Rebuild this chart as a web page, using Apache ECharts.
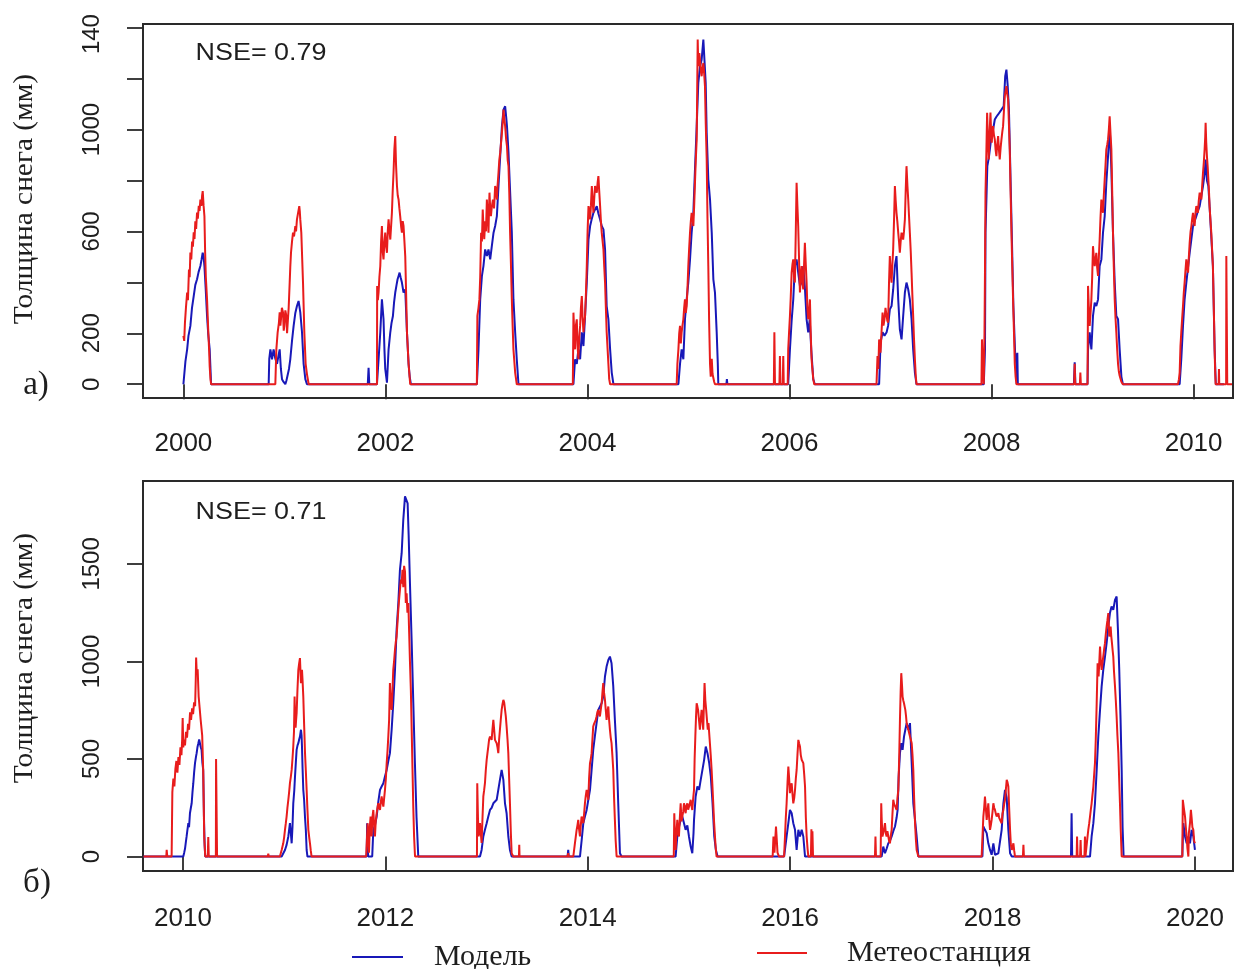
<!DOCTYPE html>
<html><head><meta charset="utf-8">
<script src="https://cdn.jsdelivr.net/npm/echarts@6/dist/echarts.min.js"></script>
<style>html,body{margin:0;padding:0;background:#fff}#c{width:1235px;height:969px}</style>
</head><body><div id="c"></div>
<script>
// ---------- axis ticks / labels ----------
const yTicksA = [0,200,400,600,800,1000,1200,1400];
const yLabelsA = [0,200,600,1000,1400];
const yTicksB = [0,500,1000,1500];
const xTicksA = [2000,2002,2004,2006,2008,2010];
const xTicksB = [2010,2012,2014,2016,2018,2020];
const nseA = 'NSE= 0.79';
const nseB = 'NSE= 0.71';
const yTitle = 'Толщина снега (мм)';
const seriesNames = ['Модель','Метеостанция'];

// ---------- panel a) 2000-2010 : [decimal year, snow depth mm] ----------
const modelA = [
[2000.00,0],[2000.02,90],[2000.037,137],[2000.05,190],[2000.069,229],[2000.085,300],[2000.102,346],[2000.118,390],[2000.135,412],[2000.15,440],[2000.168,464],[2000.18,490],[2000.191,516],[2000.2,500],[2000.208,464],[2000.22,380],[2000.234,268],[2000.245,200],[2000.26,137],[2000.268,60],[2000.274,0],
[2000.844,0],[2000.85,100],[2000.861,137],[2000.877,98],[2000.893,137],[2000.91,100],[2000.927,80],[2000.94,110],[2000.953,137],[2000.965,60],[2000.976,20],[2000.99,10],[2001.009,0],[2001.02,15],[2001.032,20],[2001.045,60],[2001.058,98],[2001.075,170],[2001.091,229],[2001.108,280],[2001.124,307],[2001.14,327],[2001.157,282],[2001.174,204],[2001.19,80],[2001.207,20],[2001.223,0],
[2001.825,0],[2001.833,65],[2001.84,0],[2001.916,0],[2001.932,98],[2001.949,204],[2001.965,333],[2001.981,255],[2001.99,137],[2001.998,60],[2002.015,6],[2002.031,137],[2002.048,204],[2002.06,240],[2002.074,268],[2002.085,320],[2002.097,360],[2002.11,390],[2002.12,412],[2002.13,425],[2002.14,438],[2002.15,420],[2002.163,399],[2002.179,360],[2002.196,372],[2002.213,204],[2002.229,80],[2002.24,30],[2002.252,0],
[2002.905,0],[2002.921,137],[2002.938,333],[2002.955,425],[2002.97,464],[2002.987,529],[2003.004,503],[2003.02,529],[2003.037,490],[2003.053,542],[2003.07,595],[2003.086,621],[2003.103,660],[2003.119,778],[2003.136,896],[2003.153,1013],[2003.169,1078],[2003.185,1091],[2003.195,1050],[2003.203,1013],[2003.218,909],[2003.225,843],[2003.234,843],[2003.251,595],[2003.267,333],[2003.284,204],[2003.30,98],[2003.317,0],
[2003.861,0],[2003.877,98],[2003.894,80],[2003.91,137],[2003.927,98],[2003.944,204],[2003.96,150],[2003.976,268],[2003.993,399],[2004.01,568],[2004.026,621],[2004.043,650],[2004.059,673],[2004.075,680],[2004.092,699],[2004.108,670],[2004.125,647],[2004.141,621],[2004.158,608],[2004.174,529],[2004.19,307],[2004.207,255],[2004.224,137],[2004.24,46],[2004.257,0],
[2004.90,0],[2004.916,80],[2004.932,137],[2004.949,98],[2004.965,255],[2004.982,333],[2004.998,399],[2005.015,490],[2005.031,595],[2005.048,673],[2005.064,843],[2005.081,1013],[2005.097,1183],[2005.114,1248],[2005.13,1274],[2005.147,1353],[2005.157,1353],[2005.17,1183],[2005.18,987],[2005.196,804],[2005.213,725],[2005.23,595],[2005.246,412],[2005.262,360],[2005.279,204],[2005.29,80],[2005.295,0],[2005.375,0],[2005.38,20],[2005.385,0],
[2005.987,0],[2006.004,137],[2006.021,250],[2006.037,333],[2006.053,464],[2006.07,490],[2006.086,438],[2006.103,386],[2006.12,400],[2006.136,464],[2006.152,380],[2006.169,255],[2006.185,204],[2006.2,255],[2006.215,137],[2006.235,20],[2006.25,0],
[2006.887,0],[2006.901,163],[2006.921,204],[2006.94,190],[2006.961,204],[2006.976,230],[2006.993,294],[2007.01,307],[2007.026,372],[2007.043,464],[2007.059,503],[2007.076,333],[2007.092,216],[2007.109,176],[2007.125,268],[2007.142,360],[2007.158,399],[2007.175,372],[2007.191,333],[2007.208,255],[2007.224,137],[2007.241,46],[2007.257,0],
[2007.923,0],[2007.935,137],[2007.94,595],[2007.958,856],[2007.975,895],[2007.995,961],[2008.015,1000],[2008.032,1039],[2008.048,1050],[2008.065,1059],[2008.081,1065],[2008.098,1078],[2008.12,1091],[2008.135,1209],[2008.147,1235],[2008.16,1170],[2008.172,1078],[2008.185,856],[2008.2,595],[2008.216,307],[2008.233,124],[2008.245,80],[2008.25,0],[2008.255,124],[2008.26,0],
[2008.815,0],[2008.823,86],[2008.83,0],[2008.95,0],[2008.955,137],[2008.971,204],[2008.988,137],[2009.004,268],[2009.021,320],[2009.037,307],[2009.054,333],[2009.07,464],[2009.087,490],[2009.103,595],[2009.12,660],[2009.136,791],[2009.153,895],[2009.169,1013],[2009.186,843],[2009.202,595],[2009.219,400],[2009.235,268],[2009.252,255],[2009.268,137],[2009.285,30],[2009.30,0],
[2009.862,0],[2009.878,98],[2009.895,229],[2009.911,333],[2009.928,399],[2009.945,460],[2009.961,516],[2009.978,570],[2009.994,621],[2010.01,640],[2010.027,660],[2010.043,680],[2010.06,699],[2010.077,740],[2010.093,778],[2010.11,830],[2010.119,882],[2010.132,800],[2010.146,778],[2010.158,699],[2010.175,580],[2010.191,464],[2010.208,137],[2010.22,0],[2010.30,0]
];
const meteoA = [
[2000.00,190],[2000.008,170],[2000.015,240],[2000.025,300],[2000.037,360],[2000.045,330],[2000.055,450],[2000.062,420],[2000.069,517],[2000.078,490],[2000.086,560],[2000.094,540],[2000.102,596],[2000.11,570],[2000.118,640],[2000.126,610],[2000.135,674],[2000.143,650],[2000.152,700],[2000.16,680],[2000.168,725],[2000.178,700],[2000.185,740],[2000.191,758],[2000.2,700],[2000.208,660],[2000.215,520],[2000.222,420],[2000.234,333],[2000.245,220],[2000.255,130],[2000.26,71],[2000.268,20],[2000.274,0],
[2000.91,0],[2000.92,137],[2000.933,204],[2000.945,240],[2000.953,282],[2000.96,230],[2000.966,255],[2000.975,300],[2000.986,282],[2000.993,210],[2000.999,229],[2001.009,290],[2001.019,268],[2001.026,200],[2001.032,204],[2001.042,300],[2001.052,399],[2001.058,460],[2001.065,516],[2001.075,560],[2001.085,595],[2001.095,580],[2001.108,621],[2001.115,600],[2001.124,647],[2001.135,640],[2001.147,699],[2001.152,680],[2001.157,647],[2001.167,595],[2001.184,399],[2001.197,204],[2001.21,80],[2001.223,40],[2001.24,0],
[2001.916,0],[2001.918,386],[2001.925,330],[2001.932,360],[2001.94,420],[2001.949,464],[2001.957,560],[2001.965,621],[2001.973,520],[2001.981,490],[2001.99,560],[2001.998,595],[2002.007,540],[2002.015,516],[2002.023,600],[2002.031,647],[2002.04,600],[2002.048,568],[2002.056,620],[2002.064,673],[2002.072,760],[2002.08,830],[2002.088,920],[2002.097,974],[2002.105,860],[2002.114,778],[2002.122,740],[2002.13,725],[2002.138,690],[2002.146,660],[2002.155,620],[2002.163,595],[2002.171,640],[2002.179,621],[2002.188,560],[2002.196,503],[2002.205,350],[2002.213,204],[2002.229,80],[2002.245,0],
[2002.905,0],[2002.91,268],[2002.921,300],[2002.93,333],[2002.938,420],[2002.947,595],[2002.955,560],[2002.963,686],[2002.97,620],[2002.978,569],[2002.987,640],[2002.995,600],[2003.004,725],[2003.012,660],[2003.02,595],[2003.026,700],[2003.03,752],[2003.037,690],[2003.044,660],[2003.054,700],[2003.064,725],[2003.075,690],[2003.086,778],[2003.095,760],[2003.103,725],[2003.11,780],[2003.119,830],[2003.127,880],[2003.136,909],[2003.145,950],[2003.153,987],[2003.161,1030],[2003.169,1078],[2003.177,1040],[2003.185,1013],[2003.195,960],[2003.203,935],[2003.21,880],[2003.218,856],[2003.226,750],[2003.234,595],[2003.243,460],[2003.251,333],[2003.259,230],[2003.267,137],[2003.284,46],[2003.30,0],
[2003.855,0],[2003.861,281],[2003.869,200],[2003.877,137],[2003.885,230],[2003.894,255],[2003.902,150],[2003.91,98],[2003.918,180],[2003.927,229],[2003.935,300],[2003.944,346],[2003.952,260],[2003.96,204],[2003.968,240],[2003.976,268],[2003.985,360],[2003.993,464],[2004.001,600],[2004.01,699],[2004.018,680],[2004.026,647],[2004.034,700],[2004.043,778],[2004.051,720],[2004.059,673],[2004.067,730],[2004.075,778],[2004.084,760],[2004.092,752],[2004.1,790],[2004.108,817],[2004.116,760],[2004.125,699],[2004.133,640],[2004.141,595],[2004.15,560],[2004.158,529],[2004.166,460],[2004.174,399],[2004.182,300],[2004.19,204],[2004.207,80],[2004.215,20],[2004.224,0],
[2004.883,0],[2004.89,80],[2004.9,137],[2004.908,200],[2004.916,229],[2004.924,160],[2004.932,204],[2004.94,230],[2004.949,255],[2004.957,300],[2004.965,333],[2004.973,280],[2004.982,307],[2004.99,380],[2004.998,464],[2005.006,530],[2005.015,595],[2005.023,640],[2005.031,673],[2005.04,650],[2005.048,621],[2005.056,700],[2005.064,791],[2005.072,880],[2005.081,961],[2005.086,1150],[2005.091,1353],[2005.095,1280],[2005.10,1248],[2005.107,1300],[2005.114,1274],[2005.122,1230],[2005.13,1209],[2005.138,1240],[2005.147,1261],[2005.155,1220],[2005.163,1170],[2005.171,1020],[2005.18,882],[2005.188,650],[2005.196,464],[2005.204,250],[2005.213,80],[2005.22,30],[2005.23,100],[2005.238,40],[2005.246,33],[2005.254,10],[2005.262,0],
[2005.845,0],[2005.85,204],[2005.856,0],[2005.9,0],[2005.905,111],[2005.91,0],[2005.933,0],[2005.938,111],[2005.943,0],[2005.982,0],[2005.987,137],[2005.995,200],[2006.004,268],[2006.012,340],[2006.021,438],[2006.029,470],[2006.037,490],[2006.045,420],[2006.053,399],[2006.062,600],[2006.07,791],[2006.078,700],[2006.086,621],[2006.095,480],[2006.103,360],[2006.111,420],[2006.12,464],[2006.128,400],[2006.136,372],[2006.144,470],[2006.152,555],[2006.16,480],[2006.169,399],[2006.177,300],[2006.185,255],[2006.193,280],[2006.202,333],[2006.21,200],[2006.218,100],[2006.226,60],[2006.235,20],[2006.245,0],
[2006.861,0],[2006.871,111],[2006.879,60],[2006.887,176],[2006.895,140],[2006.901,124],[2006.91,200],[2006.921,281],[2006.93,230],[2006.94,255],[2006.95,300],[2006.961,268],[2006.968,250],[2006.976,242],[2006.985,400],[2006.993,503],[2007.0,450],[2007.01,399],[2007.018,470],[2007.026,529],[2007.035,650],[2007.043,778],[2007.051,720],[2007.059,673],[2007.067,640],[2007.076,595],[2007.084,560],[2007.092,516],[2007.1,560],[2007.109,595],[2007.117,580],[2007.125,568],[2007.133,600],[2007.142,647],[2007.15,760],[2007.158,856],[2007.167,780],[2007.175,725],[2007.183,660],[2007.191,595],[2007.2,520],[2007.208,438],[2007.216,350],[2007.224,268],[2007.232,180],[2007.241,98],[2007.25,30],[2007.257,0],
[2007.90,0],[2007.905,176],[2007.915,40],[2007.923,0],[2007.93,200],[2007.935,450],[2007.94,752],[2007.948,900],[2007.956,1066],[2007.964,960],[2007.972,882],[2007.98,980],[2007.989,1066],[2007.995,1000],[2008.002,948],[2008.008,990],[2008.015,1013],[2008.023,980],[2008.032,961],[2008.04,920],[2008.048,895],[2008.056,940],[2008.065,974],[2008.073,920],[2008.081,882],[2008.09,930],[2008.098,961],[2008.106,990],[2008.114,1013],[2008.122,1070],[2008.131,1131],[2008.139,1150],[2008.147,1170],[2008.155,1140],[2008.164,1118],[2008.172,1020],[2008.18,922],[2008.188,760],[2008.197,595],[2008.205,460],[2008.213,333],[2008.222,200],[2008.23,80],[2008.238,30],[2008.246,0],
[2008.818,0],[2008.823,80],[2008.828,0],[2008.874,0],[2008.879,46],[2008.884,0],[2008.95,0],[2008.955,386],[2008.963,300],[2008.971,229],[2008.98,280],[2008.988,333],[2008.996,420],[2009.004,542],[2009.012,500],[2009.021,464],[2009.029,490],[2009.037,516],[2009.045,460],[2009.054,425],[2009.062,500],[2009.07,568],[2009.078,650],[2009.087,725],[2009.095,700],[2009.103,673],[2009.111,740],[2009.12,804],[2009.128,860],[2009.136,922],[2009.145,940],[2009.153,961],[2009.161,1000],[2009.169,1052],[2009.178,980],[2009.186,922],[2009.194,760],[2009.202,595],[2009.21,460],[2009.219,333],[2009.227,260],[2009.235,204],[2009.243,140],[2009.252,80],[2009.26,50],[2009.268,33],[2009.285,10],[2009.30,0],
[2009.845,0],[2009.855,20],[2009.862,46],[2009.87,150],[2009.878,204],[2009.887,260],[2009.895,307],[2009.903,360],[2009.911,399],[2009.92,450],[2009.928,490],[2009.936,460],[2009.945,438],[2009.953,500],[2009.961,555],[2009.97,600],[2009.978,621],[2009.986,650],[2009.994,673],[2010.002,640],[2010.01,621],[2010.018,670],[2010.027,699],[2010.035,690],[2010.043,673],[2010.051,720],[2010.06,752],[2010.068,740],[2010.077,725],[2010.085,780],[2010.093,830],[2010.101,870],[2010.109,922],[2010.115,970],[2010.119,1026],[2010.125,950],[2010.132,895],[2010.14,850],[2010.146,804],[2010.152,760],[2010.158,699],[2010.166,650],[2010.175,595],[2010.183,530],[2010.191,464],[2010.2,300],[2010.208,137],[2010.214,40],[2010.218,0],[2010.248,0],[2010.251,60],[2010.254,0],[2010.322,0],[2010.324,503],[2010.33,503],[2010.333,0],[2010.38,0]
];

// ---------- panel б) 2010-2020 ----------
const modelB = [
[2009.61,0],[2010.003,0],[2010.012,20],[2010.02,40],[2010.03,80],[2010.036,103],[2010.045,140],[2010.053,171],[2010.06,150],[2010.069,222],[2010.078,250],[2010.086,273],[2010.094,330],[2010.102,376],[2010.11,430],[2010.119,479],[2010.128,510],[2010.135,530],[2010.143,560],[2010.152,581],[2010.16,600],[2010.168,590],[2010.176,560],[2010.184,547],[2010.192,480],[2010.2,444],[2010.208,188],[2010.214,60],[2010.22,0],
[2010.975,0],[2011.008,34],[2011.024,60],[2011.041,103],[2011.057,171],[2011.066,120],[2011.074,68],[2011.082,150],[2011.09,273],[2011.1,340],[2011.107,410],[2011.115,480],[2011.123,547],[2011.132,570],[2011.14,581],[2011.148,600],[2011.156,615],[2011.166,650],[2011.172,620],[2011.176,564],[2011.182,450],[2011.189,342],[2011.197,291],[2011.206,200],[2011.214,137],[2011.222,34],[2011.23,0],
[2011.815,0],[2011.82,171],[2011.83,0],[2011.87,0],[2011.881,137],[2011.897,160],[2011.914,205],[2011.93,280],[2011.947,342],[2011.963,359],[2011.98,376],[2011.996,410],[2012.013,444],[2012.029,490],[2012.045,530],[2012.062,650],[2012.078,786],[2012.095,957],[2012.111,1162],[2012.128,1299],[2012.144,1470],[2012.161,1555],[2012.177,1726],[2012.194,1846],[2012.21,1846],[2012.22,1810],[2012.23,1650],[2012.243,1400],[2012.26,1100],[2012.276,790],[2012.292,480],[2012.308,200],[2012.325,0],
[2012.935,0],[2012.951,34],[2012.968,103],[2012.984,137],[2013.001,171],[2013.017,205],[2013.034,239],[2013.05,250],[2013.067,273],[2013.083,280],[2013.1,291],[2013.116,342],[2013.132,393],[2013.149,444],[2013.166,393],[2013.182,273],[2013.198,222],[2013.215,103],[2013.231,34],[2013.248,0],
[2013.80,0],[2013.807,34],[2013.812,0],[2013.923,0],[2013.939,80],[2013.956,171],[2013.972,205],[2013.989,239],[2014.005,290],[2014.022,342],[2014.038,444],[2014.054,547],[2014.071,620],[2014.087,684],[2014.104,752],[2014.12,752],[2014.137,786],[2014.153,820],[2014.17,923],[2014.186,974],[2014.203,1008],[2014.219,1025],[2014.235,991],[2014.252,872],[2014.268,701],[2014.285,530],[2014.301,273],[2014.318,17],[2014.334,0],
[2014.868,0],[2014.885,103],[2014.901,150],[2014.918,188],[2014.934,205],[2014.951,171],[2014.967,137],[2014.984,160],[2015.0,103],[2015.017,51],[2015.033,17],[2015.045,120],[2015.05,188],[2015.066,308],[2015.083,359],[2015.1,342],[2015.116,393],[2015.133,444],[2015.15,496],[2015.166,564],[2015.183,530],[2015.2,479],[2015.216,410],[2015.233,273],[2015.25,103],[2015.266,34],[2015.283,0],
[2015.94,0],[2015.965,103],[2015.982,171],[2015.998,239],[2016.015,222],[2016.031,171],[2016.048,137],[2016.064,34],[2016.081,137],[2016.097,103],[2016.114,137],[2016.13,103],[2016.147,0],
[2016.904,0],[2016.92,51],[2016.937,17],[2016.953,40],[2016.97,68],[2016.986,80],[2017.003,103],[2017.019,130],[2017.036,154],[2017.052,200],[2017.062,239],[2017.072,410],[2017.085,530],[2017.098,581],[2017.111,547],[2017.125,615],[2017.138,650],[2017.151,684],[2017.168,650],[2017.184,684],[2017.201,479],[2017.217,273],[2017.234,188],[2017.25,103],[2017.267,0],
[2017.9,0],[2017.909,154],[2017.925,137],[2017.942,120],[2017.958,68],[2017.975,34],[2017.991,9],[2018.0,40],[2018.008,68],[2018.016,40],[2018.024,9],[2018.041,17],[2018.057,17],[2018.074,26],[2018.09,137],[2018.107,273],[2018.123,342],[2018.14,300],[2018.156,137],[2018.173,17],[2018.19,0],
[2018.775,0],[2018.781,222],[2018.787,0],[2018.963,0],[2018.979,103],[2018.996,171],[2019.012,273],[2019.029,444],[2019.045,615],[2019.062,752],[2019.078,872],[2019.094,957],[2019.111,1025],[2019.127,1094],[2019.144,1179],[2019.16,1248],[2019.176,1282],[2019.193,1265],[2019.21,1316],[2019.226,1333],[2019.239,1162],[2019.252,957],[2019.265,701],[2019.276,444],[2019.285,150],[2019.295,0],
[2019.875,0],[2019.885,171],[2019.902,103],[2019.918,68],[2019.935,103],[2019.951,68],[2019.967,137],[2019.984,103],[2020.0,34]
];
const meteoB = [
[2009.61,0],[2009.835,0],[2009.839,34],[2009.845,0],[2009.888,0],[2009.895,330],[2009.905,400],[2009.915,360],[2009.925,450],[2009.935,490],[2009.945,430],[2009.955,510],[2009.965,470],[2009.975,560],[2009.985,520],[2009.992,600],[2009.997,710],[2010.003,560],[2010.01,600],[2010.02,570],[2010.03,640],[2010.04,610],[2010.05,680],[2010.06,650],[2010.07,740],[2010.08,700],[2010.09,760],[2010.10,730],[2010.11,790],[2010.12,770],[2010.126,900],[2010.13,1020],[2010.136,940],[2010.145,960],[2010.155,820],[2010.165,760],[2010.175,700],[2010.19,620],[2010.2,440],[2010.21,100],[2010.22,0],[2010.245,0],[2010.25,100],[2010.255,0],[2010.325,0],[2010.327,500],[2010.335,500],[2010.337,0],
[2010.838,0],[2010.843,15],[2010.848,0],[2010.958,0],[2010.975,34],[2010.991,68],[2011.0,100],[2011.008,137],[2011.016,170],[2011.024,205],[2011.032,250],[2011.041,291],[2011.049,330],[2011.057,376],[2011.066,410],[2011.074,444],[2011.082,500],[2011.09,564],[2011.097,640],[2011.103,820],[2011.108,700],[2011.113,660],[2011.118,700],[2011.123,735],[2011.131,850],[2011.14,957],[2011.148,990],[2011.156,1017],[2011.161,950],[2011.166,889],[2011.171,930],[2011.176,957],[2011.182,900],[2011.189,820],[2011.197,680],[2011.206,530],[2011.214,440],[2011.222,342],[2011.23,240],[2011.239,137],[2011.247,100],[2011.255,68],[2011.263,30],[2011.271,0],
[2011.81,0],[2011.825,171],[2011.83,100],[2011.838,20],[2011.846,150],[2011.854,205],[2011.86,120],[2011.864,103],[2011.872,200],[2011.881,239],[2011.889,160],[2011.897,103],[2011.905,180],[2011.914,222],[2011.922,250],[2011.93,273],[2011.938,250],[2011.947,239],[2011.955,280],[2011.963,308],[2011.971,280],[2011.98,256],[2011.988,300],[2011.996,342],[2012.005,400],[2012.013,479],[2012.021,540],[2012.029,615],[2012.037,700],[2012.045,889],[2012.053,780],[2012.062,752],[2012.07,850],[2012.078,957],[2012.086,1000],[2012.095,1060],[2012.103,1100],[2012.111,1128],[2012.12,1200],[2012.128,1265],[2012.136,1320],[2012.144,1367],[2012.153,1420],[2012.161,1400],[2012.169,1470],[2012.177,1380],[2012.185,1490],[2012.194,1460],[2012.202,1300],[2012.21,1350],[2012.218,1250],[2012.227,1300],[2012.235,1150],[2012.243,1000],[2012.252,850],[2012.26,650],[2012.268,450],[2012.276,250],[2012.284,100],[2012.293,0],
[2012.905,0],[2012.908,376],[2012.915,200],[2012.922,103],[2012.928,140],[2012.935,171],[2012.943,120],[2012.951,70],[2012.96,200],[2012.968,308],[2012.976,340],[2012.984,376],[2012.992,440],[2013.001,496],[2013.009,530],[2013.017,564],[2013.025,600],[2013.034,615],[2013.042,610],[2013.05,598],[2013.058,650],[2013.067,701],[2013.075,650],[2013.083,598],[2013.092,590],[2013.1,581],[2013.108,560],[2013.116,530],[2013.124,600],[2013.132,650],[2013.14,700],[2013.149,752],[2013.157,780],[2013.166,803],[2013.174,790],[2013.182,786],[2013.19,720],[2013.198,667],[2013.207,600],[2013.215,530],[2013.223,400],[2013.231,273],[2013.24,120],[2013.248,17],[2013.264,0],[2013.32,0],[2013.323,60],[2013.326,0],
[2013.80,0],[2013.807,17],[2013.812,0],[2013.857,0],[2013.873,68],[2013.881,100],[2013.89,137],[2013.898,160],[2013.906,188],[2013.914,140],[2013.923,103],[2013.931,160],[2013.939,205],[2013.947,190],[2013.956,171],[2013.964,220],[2013.972,273],[2013.98,310],[2013.989,342],[2013.997,320],[2014.005,291],[2014.013,400],[2014.022,479],[2014.03,500],[2014.038,530],[2014.046,600],[2014.054,667],[2014.062,680],[2014.071,684],[2014.079,700],[2014.087,718],[2014.095,740],[2014.104,752],[2014.112,730],[2014.12,718],[2014.128,750],[2014.137,786],[2014.145,840],[2014.153,889],[2014.161,840],[2014.17,803],[2014.178,750],[2014.186,701],[2014.194,740],[2014.203,769],[2014.211,700],[2014.219,650],[2014.227,610],[2014.235,581],[2014.243,520],[2014.252,444],[2014.26,300],[2014.268,188],[2014.276,80],[2014.285,0],
[2014.85,0],[2014.855,222],[2014.862,100],[2014.868,34],[2014.876,120],[2014.885,188],[2014.893,120],[2014.901,103],[2014.91,200],[2014.918,273],[2014.926,180],[2014.934,171],[2014.943,230],[2014.951,273],[2014.959,250],[2014.967,222],[2014.975,260],[2014.984,273],[2014.992,240],[2015.0,239],[2015.008,270],[2015.017,291],[2015.025,260],[2015.033,239],[2015.042,300],[2015.05,342],[2015.056,500],[2015.063,615],[2015.07,720],[2015.076,786],[2015.083,770],[2015.09,752],[2015.099,700],[2015.108,650],[2015.116,700],[2015.125,752],[2015.133,700],[2015.141,650],[2015.148,780],[2015.154,889],[2015.162,800],[2015.17,752],[2015.178,700],[2015.186,650],[2015.193,684],[2015.2,684],[2015.207,581],[2015.215,520],[2015.224,444],[2015.232,360],[2015.24,273],[2015.248,180],[2015.257,103],[2015.265,40],[2015.273,0],
[2015.827,0],[2015.835,103],[2015.845,20],[2015.853,17],[2015.86,154],[2015.866,154],[2015.875,20],[2015.883,17],[2015.89,0],[2015.94,0],[2015.949,103],[2015.957,200],[2015.965,273],[2015.974,380],[2015.982,461],[2015.99,400],[2015.998,325],[2016.006,360],[2016.015,376],[2016.023,320],[2016.031,273],[2016.04,300],[2016.048,342],[2016.056,400],[2016.064,444],[2016.072,520],[2016.081,598],[2016.089,580],[2016.097,564],[2016.105,520],[2016.114,496],[2016.122,490],[2016.13,479],[2016.139,420],[2016.147,359],[2016.155,200],[2016.163,103],[2016.172,40],[2016.18,0],[2016.205,0],[2016.21,140],[2016.215,0],[2016.22,130],[2016.226,0],
[2016.838,0],[2016.843,103],[2016.848,0],[2016.894,0],[2016.9,273],[2016.904,200],[2016.912,103],[2016.92,103],[2016.928,140],[2016.937,171],[2016.945,120],[2016.953,103],[2016.961,130],[2016.97,137],[2016.978,80],[2016.986,68],[2016.995,110],[2017.003,137],[2017.011,220],[2017.019,291],[2017.027,270],[2017.036,273],[2017.044,250],[2017.052,239],[2017.06,300],[2017.069,342],[2017.077,500],[2017.085,701],[2017.092,850],[2017.098,940],[2017.105,880],[2017.111,820],[2017.118,800],[2017.125,786],[2017.131,770],[2017.138,752],[2017.145,720],[2017.151,684],[2017.16,665],[2017.168,650],[2017.176,640],[2017.184,615],[2017.192,600],[2017.201,581],[2017.209,520],[2017.217,444],[2017.225,300],[2017.234,171],[2017.242,90],[2017.25,34],[2017.267,0],
[2017.892,0],[2017.909,205],[2017.917,250],[2017.925,308],[2017.933,250],[2017.942,188],[2017.95,230],[2017.958,273],[2017.966,200],[2017.975,137],[2017.983,160],[2017.991,188],[2018.0,230],[2018.008,273],[2018.016,250],[2018.024,239],[2018.032,220],[2018.041,205],[2018.049,210],[2018.057,222],[2018.065,200],[2018.074,188],[2018.082,180],[2018.09,171],[2018.098,220],[2018.107,239],[2018.115,270],[2018.123,291],[2018.131,340],[2018.14,393],[2018.148,380],[2018.156,359],[2018.164,250],[2018.173,137],[2018.181,60],[2018.19,34],[2018.198,50],[2018.206,68],[2018.214,30],[2018.222,0],[2018.3,0],[2018.305,60],[2018.31,0],
[2018.831,0],[2018.835,103],[2018.84,0],[2018.865,0],[2018.87,85],[2018.875,0],[2018.908,0],[2018.913,103],[2018.918,0],[2018.93,0],[2018.938,100],[2018.946,137],[2018.955,170],[2018.963,205],[2018.971,240],[2018.979,273],[2018.988,320],[2018.996,359],[2019.004,420],[2019.012,479],[2019.02,600],[2019.029,786],[2019.034,900],[2019.038,991],[2019.043,950],[2019.048,923],[2019.055,1000],[2019.062,1077],[2019.07,1000],[2019.078,957],[2019.086,990],[2019.094,1025],[2019.102,1060],[2019.111,1094],[2019.119,1140],[2019.127,1179],[2019.135,1210],[2019.144,1248],[2019.149,1180],[2019.154,1128],[2019.16,1150],[2019.167,1179],[2019.173,1130],[2019.18,1094],[2019.186,1060],[2019.193,1025],[2019.2,950],[2019.21,872],[2019.218,800],[2019.226,718],[2019.234,620],[2019.243,530],[2019.251,400],[2019.259,273],[2019.267,130],[2019.276,0],
[2019.848,0],[2019.852,10],[2019.86,0],[2019.875,0],[2019.88,291],[2019.89,250],[2019.902,205],[2019.91,150],[2019.918,103],[2019.926,40],[2019.935,0],[2019.94,120],[2019.951,171],[2019.96,239],[2019.967,200],[2019.975,150],[2019.984,137],[2019.992,80],[2020.0,68]
];

// ---------- chart ----------
const BLUE = '#1818b8', RED = '#e81c1c', INK = '#1e1e1e';
const SANS = 'Liberation Sans', SERIF = 'Liberation Serif';
const chart = echarts.init(document.getElementById('c'), null, {renderer:'canvas'});

function xAxis(gi, min, max, ticks, margin) {
  return {type:'value', gridIndex:gi, min, max,
    axisLine:{show:false}, splitLine:{show:false},
    axisTick:{show:true, length:15, customValues:ticks, lineStyle:{color:'#2a2a2a', width:1.8}},
    axisLabel:{customValues:ticks, margin, color:INK, fontFamily:SANS, fontSize:26,
      formatter:v=>String(Math.round(v))}};
}
function yAxis(gi, min, max, ticks, labels, fmt) {
  return {type:'value', gridIndex:gi, min, max,
    axisLine:{show:false}, splitLine:{show:false},
    axisTick:{show:true, length:16, customValues:ticks, lineStyle:{color:'#2a2a2a', width:1.8}},
    axisLabel:{customValues:labels, rotate:90, margin:39, color:INK, fontFamily:SANS, fontSize:24,
      formatter:fmt, rich:{t:{fontFamily:SANS, fontSize:24, color:INK, padding:[0,13,0,0]}}}};
}
function line(name, data, color, gi) {
  return {type:'line', name, data, xAxisIndex:gi, yAxisIndex:gi, showSymbol:false, symbol:'none',
    clip:true, lineStyle:{color, width:2}, itemStyle:{color}, emphasis:{disabled:true}};
}
function txt(x, y, text, font, size, opts) {
  return Object.assign({type:'text', x, y, silent:true, z:100,
    style:{text, fontFamily:font, fontSize:size, fill:INK, align:'center', verticalAlign:'middle',
      textAlign:'center', textVerticalAlign:'middle'}}, opts||{});
}

chart.setOption({
  animation:false,
  backgroundColor:'#fff',
  grid:[
    {left:143, right:2, top:24, height:374, show:true, borderColor:'#2a2a2a', borderWidth:2, backgroundColor:'transparent'},
    {left:143, right:2, top:481, height:390, show:true, borderColor:'#2a2a2a', borderWidth:2, backgroundColor:'transparent'}
  ],
  xAxis:[ xAxis(0, 1999.6, 2010.39, xTicksA, 33), xAxis(1, 2009.605, 2020.376, xTicksB, 35) ],
  yAxis:[
    yAxis(0, -54, 1414, yTicksA, yLabelsA, v => v === 1400 ? '{t|140}' : String(v)),
    yAxis(1, -74, 1925, yTicksB, yTicksB, v => String(v))
  ],
  legend:[
    {data:[seriesNames[0]], left:352, top:942, padding:0, icon:'rect', itemWidth:51, itemHeight:2,
      selectedMode:false, textStyle:{fontFamily:SERIF, fontSize:30, color:INK, padding:[0,0,0,26]}},
    {data:[seriesNames[1]], left:757, top:938, padding:0, icon:'rect', itemWidth:50, itemHeight:2,
      selectedMode:false, textStyle:{fontFamily:SERIF, fontSize:30, color:INK, padding:[0,0,0,35]}}
  ],
  series:[
    line(seriesNames[0], modelA, BLUE, 0),
    line(seriesNames[1], meteoA, RED, 0),
    line(seriesNames[0], modelB, BLUE, 1),
    line(seriesNames[1], meteoB, RED, 1)
  ],
  graphic:[
    txt(261, 54, nseA, SANS, 23, {scaleX:1.17}),
    txt(261, 513, nseB, SANS, 23, {scaleX:1.17}),
    txt(25, 199, yTitle, SERIF, 28, {rotation:Math.PI/2, scaleX:1.05}),
    txt(25, 658, yTitle, SERIF, 28, {rotation:Math.PI/2, scaleX:1.05}),
    txt(36, 385, 'а)', SERIF, 33),
    txt(37, 883, 'б)', SERIF, 33)
  ]
});
</script></body></html>
